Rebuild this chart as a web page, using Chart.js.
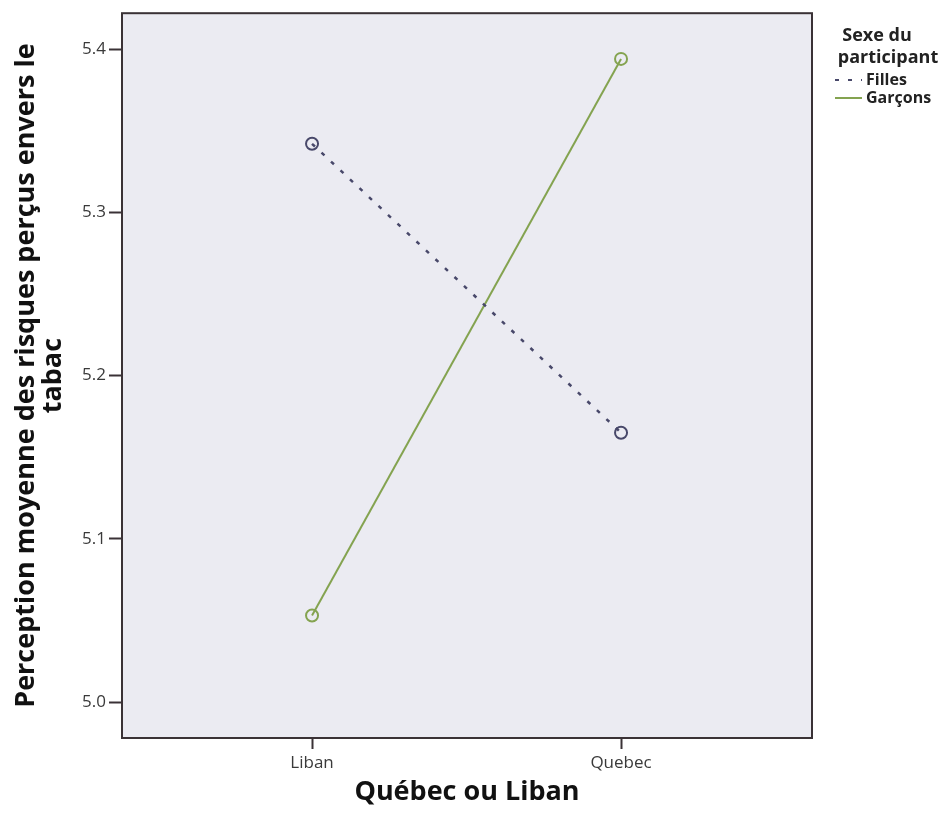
<!DOCTYPE html>
<html>
<head>
<meta charset="utf-8">
<script src="https://cdn.jsdelivr.net/npm/chart.js@4/dist/chart.umd.min.js"></script>
<style>
  html, body { margin: 0; padding: 0; background: #fff; }
</style>
</head>
<body>
<canvas id="chart" width="946" height="814"></canvas>
<script>
// Data
const categories = ['Liban', 'Quebec'];
const filles = [5.342, 5.165];
const garcons = [5.053, 5.394];
const yTicks = [5.0, 5.1, 5.2, 5.3, 5.4];
const seriesNames = ['Filles', 'Garçons'];

const fillesColor = '#48486a';
const garconsColor = '#84a350';

Chart.defaults.font.family = "'Open Sans', sans-serif";

// Plot background + frame
const plotFrame = {
    id: 'plotFrame',
    beforeDraw(chart) {
        const { ctx, chartArea: a } = chart;
        ctx.save();
        ctx.fillStyle = '#ebebf2';
        ctx.fillRect(a.left, a.top, a.right - a.left, a.bottom - a.top);
        ctx.restore();
    },
    beforeDatasetsDraw(chart) {
        const { ctx, chartArea: a } = chart;
        ctx.save();
        ctx.strokeStyle = '#3a3236';
        ctx.lineWidth = 2;
        ctx.strokeRect(a.left, a.top, a.right - a.left, a.bottom - a.top);
        ctx.restore();
    }
};

// Legend drawn at the right, SPSS style
const sideLegend = {
    id: 'sideLegend',
    afterDraw(chart) {
        const ctx = chart.ctx;
        ctx.save();
        ctx.fillStyle = '#222';
        ctx.textAlign = 'center';
        ctx.textBaseline = 'middle';
        ctx.font = "bold 18px 'Open Sans', sans-serif";
        ctx.fillText('Sexe du', 877, 36);
        ctx.fillText('participant', 888, 58);

        ctx.textAlign = 'left';
        ctx.font = "bold 16px 'Open Sans', sans-serif";
        chart.data.datasets.forEach((ds, i) => {
            const y = 80 + i * 18;
            ctx.save();
            ctx.strokeStyle = ds.borderColor;
            ctx.lineWidth = 2;
            ctx.setLineDash(ds.borderDash || []);
            ctx.beginPath();
            ctx.moveTo(835, y);
            ctx.lineTo(862, y);
            ctx.stroke();
            ctx.restore();
            ctx.fillText(ds.label, 866, y);
        });
        ctx.restore();
    }
};

const toPoints = arr => arr.map((v, i) => ({ x: i, y: v }));

new Chart(document.getElementById('chart'), {
    type: 'line',
    data: {
        datasets: [{
            label: seriesNames[0],
            data: toPoints(filles),
            borderColor: fillesColor,
            borderWidth: 2.5,
            borderDash: [4, 9],
            pointRadius: 6,
            pointBorderWidth: 2,
            pointBorderColor: fillesColor,
            pointBackgroundColor: 'rgba(0,0,0,0)',
            tension: 0
        }, {
            label: seriesNames[1],
            data: toPoints(garcons),
            borderColor: garconsColor,
            borderWidth: 2,
            pointRadius: 6,
            pointBorderWidth: 2,
            pointBorderColor: garconsColor,
            pointBackgroundColor: 'rgba(0,0,0,0)',
            tension: 0
        }]
    },
    options: {
        responsive: false,
        animation: false,
        layout: { padding: { top: 12, right: 134, left: 0, bottom: 0 } },
        plugins: {
            legend: { display: false },
            tooltip: { enabled: false }
        },
        scales: {
            x: {
                type: 'linear',
                min: -0.615,
                max: 1.618,
                afterBuildTicks: s => { s.ticks = categories.map((c, i) => ({ value: i })); },
                afterFit: s => { s.height = 76; },
                ticks: {
                    callback: v => categories[v],
                    color: '#3a3a3a',
                    font: { size: 17 },
                    padding: 4,
                    maxRotation: 0
                },
                grid: {
                    drawOnChartArea: false,
                    tickLength: 11,
                    tickWidth: 2,
                    tickColor: '#3a3236'
                },
                border: { display: false },
                title: {
                    display: true,
                    text: 'Québec ou Liban',
                    color: '#111',
                    font: { size: 27, weight: 'bold' },
                    padding: { bottom: 5 }
                }
            },
            y: {
                min: 4.978,
                max: 5.422,
                afterBuildTicks: s => { s.ticks = yTicks.map(v => ({ value: v })); },
                afterFit: s => { s.width = 122; },
                ticks: {
                    callback: v => v.toFixed(1),
                    color: '#3a3a3a',
                    font: { size: 17 },
                    padding: 3
                },
                grid: {
                    drawOnChartArea: false,
                    tickLength: 13,
                    tickWidth: 2,
                    tickColor: '#3a3236'
                },
                border: { display: false },
                title: {
                    display: true,
                    text: ['Perception moyenne des risques perçus envers le', 'tabac'],
                    color: '#111',
                    font: { size: 27, weight: 'bold', lineHeight: 1.0 },
                    padding: { top: 13 }
                }
            }
        }
    },
    plugins: [plotFrame, sideLegend]
});
</script>
</body>
</html>
